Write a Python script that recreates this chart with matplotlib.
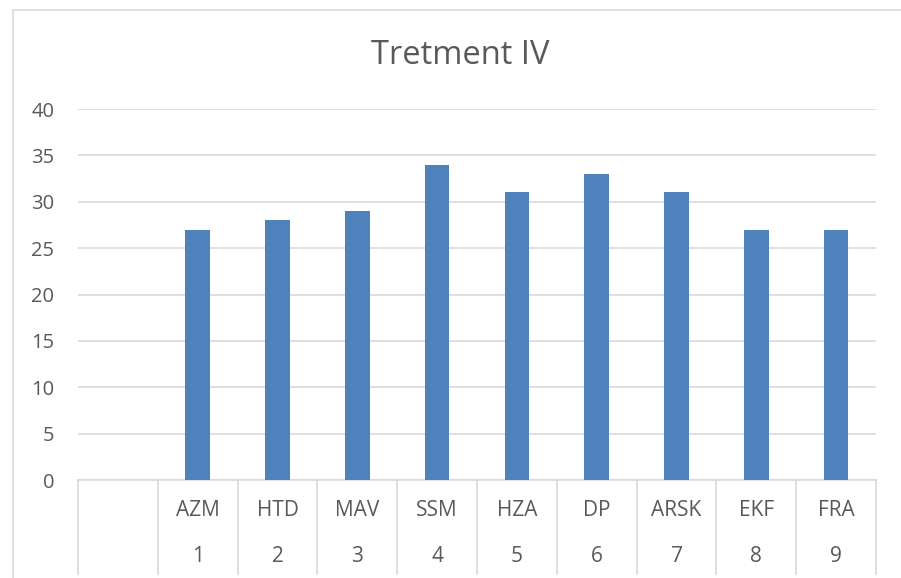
import matplotlib
matplotlib.use("Agg")
import matplotlib.pyplot as plt
from matplotlib.patches import Rectangle
from matplotlib.lines import Line2D
import matplotlib.transforms as mtransforms

plt.rcParams['font.family'] = ['Open Sans', 'DejaVu Sans']

title = "Tretment IV"
names = ["AZM", "HTD", "MAV", "SSM", "HZA", "DP", "ARSK", "EKF", "FRA"]
ids = ["1", "2", "3", "4", "5", "6", "7", "8", "9"]
values = [27, 28, 29, 34, 31, 33, 31, 27, 27]
yticks = [0, 5, 10, 15, 20, 25, 30, 35, 40]

W, H = 901, 578
fig = plt.figure(figsize=(W / 100, H / 100), dpi=100)
fig.patch.set_facecolor("white")

# chart border
fig.patches.append(Rectangle((13 / W, -0.1), 1.2, (H - 10) / H + 0.1,
                             transform=fig.transFigure, fill=False,
                             edgecolor="#d9d9d9", lw=1.2, zorder=0))

ax = fig.add_axes([78 / W, (H - 480) / H, (876 - 78) / W, (480 - 109) / H])
n = len(names) + 1  # first slot is empty
pos = list(range(1, n))
ax.bar(pos, values, width=0.31, color="#4F81BD", zorder=3)
ax.set_xlim(-0.5, n - 0.5)
ax.set_ylim(0, 40)
ax.set_yticks(yticks)
ax.tick_params(axis="y", length=0, pad=17, labelsize=14.5, labelcolor="#595959")
ax.set_xticks([])
ax.grid(axis="y", color="#d9d9d9", lw=1.2, zorder=0)
for s in ["top", "right", "left"]:
    ax.spines[s].set_visible(False)
ax.spines["bottom"].set_color("#d9d9d9")
ax.spines["bottom"].set_linewidth(1.2)

trans = mtransforms.blended_transform_factory(ax.transData, fig.transFigure)
for k in range(n + 1):
    x = k - 0.5
    ax.add_line(Line2D([x, x], [(H - 480) / H, (H - 574) / H], transform=trans,
                       color="#d9d9d9", lw=1.2, clip_on=False))
for p, nm, i in zip(pos, names, ids):
    ax.text(p, (H - 511) / H, nm, transform=trans, ha="center", va="center",
            fontsize=15, color="#595959")
    ax.text(p, (H - 557) / H, i, transform=trans, ha="center", va="center",
            fontsize=15, color="#595959")

fig.text(460 / W, (H - 55) / H, title, ha="center", va="center",
         fontsize=23.5, color="#595959")

fig.savefig("out.png", dpi=100)
